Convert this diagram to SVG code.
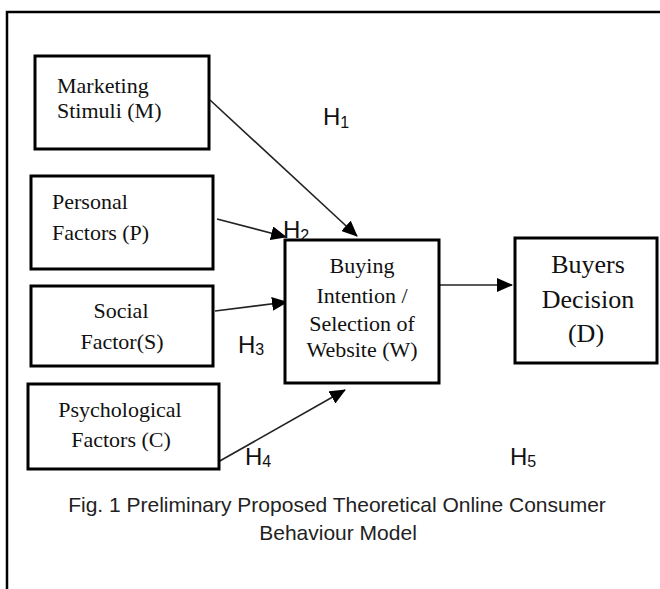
<svg xmlns="http://www.w3.org/2000/svg" width="660" height="589" viewBox="0 0 660 589">
<style>
.box{fill:#fff;stroke:#000;stroke-width:3}
.t{font-family:"Liberation Serif","Times New Roman",serif;font-size:22px;fill:#111}
.tc{text-anchor:middle}
.big{font-size:26px}
.h{font-family:"Liberation Sans",Arial,sans-serif;font-size:24px;fill:#111}
.sub{font-size:16px}
.ln{stroke:#222;stroke-width:1.6;fill:none;marker-end:url(#ah)}
.cap{font-family:"Liberation Sans",Arial,sans-serif;font-size:21px;fill:#222;text-anchor:middle}
</style>
<defs>
<marker id="ah" markerUnits="userSpaceOnUse" markerWidth="16" markerHeight="14" refX="15" refY="7" orient="auto">
<path d="M0,0 L16,7 L0,14 Z" fill="#000"/>
</marker>
</defs>
<rect width="660" height="589" fill="#fff"/>
<path d="M7,589 V12 H660" fill="none" stroke="#000" stroke-width="2.5"/>
<g id="connectors">
<line class="ln" x1="210" y1="100" x2="357" y2="236"/>
<line class="ln" x1="217" y1="219" x2="286" y2="237"/>
<line class="ln" x1="215" y1="311" x2="287" y2="302"/>
<line class="ln" x1="218" y1="462" x2="345" y2="390"/>
<line class="ln" x1="440" y1="285" x2="512" y2="285"/>
<text class="h" x="323" y="125">H<tspan class="sub" dy="3">1</tspan></text>
<text class="h" x="283" y="238">H<tspan class="sub" dy="3">2</tspan></text>
<text class="h" x="238" y="353">H<tspan class="sub" dy="2">3</tspan></text>
<text class="h" x="245" y="465">H<tspan class="sub" dy="2">4</tspan></text>
<text class="h" x="510" y="465">H<tspan class="sub" dy="2">5</tspan></text>
</g>
<g id="node-M">
<rect class="box" x="35" y="56" width="174" height="93"/>
<text class="t" x="57" y="93">Marketing</text>
<text class="t" x="57" y="118">Stimuli (M)</text>
</g>
<g id="node-P">
<rect class="box" x="31" y="176" width="182" height="93"/>
<text class="t" x="52" y="209">Personal</text>
<text class="t" x="52" y="240">Factors (P)</text>
</g>
<g id="node-S">
<rect class="box" x="31" y="286" width="182" height="80"/>
<text class="t tc" x="121" y="318">Social</text>
<text class="t tc" x="122" y="349">Factor(S)</text>
</g>
<g id="node-C">
<rect class="box" x="28" y="384" width="191" height="85"/>
<text class="t tc" x="120" y="417">Psychological</text>
<text class="t tc" x="121" y="447">Factors (C)</text>
</g>
<g id="node-W">
<rect class="box" x="285" y="240" width="154" height="143"/>
<text class="t tc" x="362" y="273">Buying</text>
<text class="t tc" x="362" y="303">Intention /</text>
<text class="t tc" x="362" y="331">Selection of</text>
<text class="t tc" x="362" y="357">Website (W)</text>
</g>
<g id="node-D">
<rect class="box" x="515" y="238" width="142" height="125"/>
<text class="t tc big" x="588" y="273">Buyers</text>
<text class="t tc big" x="588" y="308">Decision</text>
<text class="t tc big" x="586" y="342">(D)</text>
</g>
<g id="caption">
<text class="cap" x="337" y="512">Fig. 1 Preliminary Proposed Theoretical Online Consumer</text>
<text class="cap" x="338" y="540">Behaviour Model</text>
</g>
</svg>
